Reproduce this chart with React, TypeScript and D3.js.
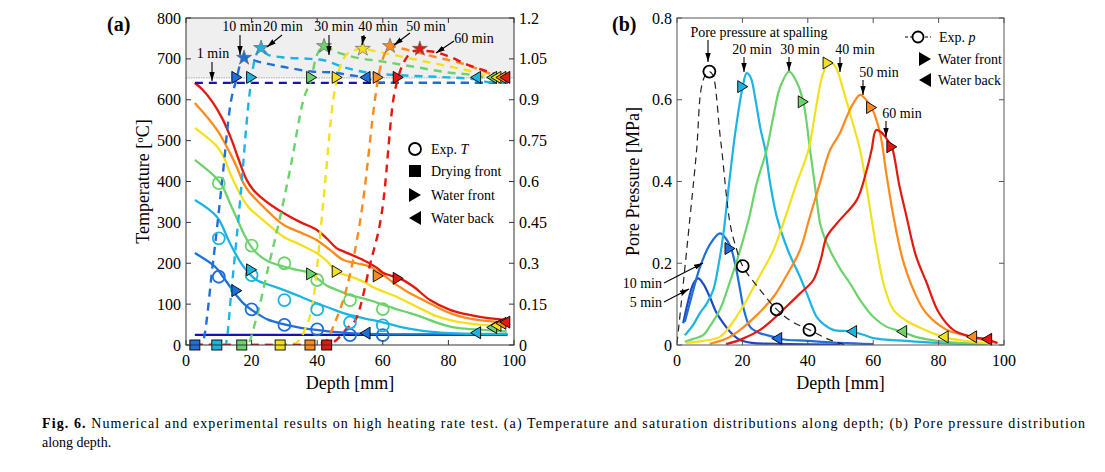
import React from "react";
import * as d3 from "d3";

type P = [number, number];

// ---------------- ticks ----------------
const depthTicks = [0, 20, 40, 60, 80, 100];
const tempTicks = [0, 100, 200, 300, 400, 500, 600, 700, 800];
const satTicks = [0, 0.15, 0.3, 0.45, 0.6, 0.75, 0.9, 1.05, 1.2];
const presTicks = [0, 0.2, 0.4, 0.6, 0.8];

// ---------------- series meta ----------------
const timeLabels = ["1 min", "10 min", "20 min", "30 min", "40 min", "50 min", "60 min"];
const timeColors = ["#1414b4", "#1f6fd8", "#1cb4e2", "#6cd36c", "#f4e01c", "#ff8a1c", "#e3190f"];

// ---------------- panel (a): temperature (°C) ----------------
const temp1: P[] = [[2.7, 25], [98, 25]];
const temp10: P[] = [[2.7, 225], [8.8, 192], [11, 170], [13.4, 143], [15.5, 120], [17.5, 102], [21.5, 78], [25, 62], [29.7, 51], [35, 42], [39.8, 37], [45, 32], [50, 29], [55, 27], [65, 26], [98, 26]];
const temp20: P[] = [[2.7, 355], [9.4, 314], [13.4, 249], [17.5, 192], [21.5, 159], [25, 148], [29.7, 135], [35, 118], [39.8, 102], [44, 90], [48, 78], [54, 66], [60.2, 55], [65, 45], [70.3, 37], [75, 32], [80.5, 29], [90, 27], [98, 27]];
const temp30: P[] = [[2.7, 453], [8.8, 412], [11, 390], [13.4, 347], [15.5, 310], [17.5, 274], [19.5, 245], [21.5, 225], [25, 205], [29.7, 192], [33, 185], [37.8, 176], [40, 163], [43, 145], [45.9, 135], [50, 122], [54, 114], [57, 107], [60.2, 98], [64, 88], [68.3, 78], [72, 68], [76, 56], [80.5, 45], [85, 40], [90.6, 37], [97.8, 33]];
const temp40: P[] = [[2.7, 531], [9.4, 486], [11.5, 460], [13.4, 421], [15.5, 385], [17.5, 355], [19.5, 333], [21.5, 319], [25, 295], [29.7, 265], [35, 245], [39.8, 225], [43, 205], [45.9, 180], [50, 168], [54, 155], [58, 138], [64.2, 118], [68, 103], [72.3, 86], [76, 72], [80.5, 61], [85, 54], [90, 49], [97.8, 45]];
const temp50: P[] = [[2.7, 592], [9.4, 527], [13.4, 470], [15.5, 435], [17.5, 396], [19.5, 372], [21.5, 355], [25, 327], [29.7, 294], [35, 275], [39.8, 257], [44, 232], [48, 208], [52, 200], [56, 192], [60, 172], [64.2, 147], [68, 128], [72.3, 110], [76, 95], [80.5, 78], [85, 67], [90, 60], [97.8, 55]];
const temp60: P[] = [[2.7, 641], [5, 625], [8.2, 593], [11, 555], [13.9, 502], [16, 455], [18.5, 404], [20.5, 380], [22.6, 363], [26, 342], [29.7, 323], [35, 300], [39.8, 282], [43, 260], [45.9, 237], [48, 229], [54, 208], [58, 190], [60.2, 176], [65.2, 163], [69.3, 143], [74.4, 110], [80.5, 86], [85, 76], [89.6, 69], [97.8, 61]];

// ---------------- panel (a): saturation (-) ----------------
const sat1: P[] = [[2.7, 0.962], [98, 0.962]];
const sat10: P[] = [[2.7, 0], [4.7, 0], [8.3, 0.31], [11, 0.6], [13.5, 0.88], [15.5, 0.982], [16.5, 1.03], [17.7, 1.054], [19, 1.05], [22, 1.04], [30, 1.02], [38.8, 1.003], [45, 1.0], [50, 0.99], [54.6, 0.982], [58, 0.965], [62, 0.962], [98, 0.962]];
const sat20: P[] = [[2.7, 0], [12, 0], [14, 0.22], [16.5, 0.53], [19, 0.88], [20, 0.982], [21, 1.05], [22.9, 1.09], [25, 1.065], [30, 1.055], [38, 1.05], [42, 1.045], [48, 1.02], [55, 1.0], [65, 0.99], [80, 0.982], [88.3, 0.975], [92, 0.965], [98, 0.962]];
const sat30: P[] = [[2.7, 0], [18.5, 0], [21.5, 0.1], [25, 0.28], [28.7, 0.47], [32, 0.66], [35.8, 0.9], [38.3, 0.982], [39.5, 1.05], [42.1, 1.097], [45, 1.08], [50, 1.06], [60, 1.04], [70, 1.02], [80, 1.0], [88, 0.99], [93.2, 0.975], [98, 0.968]];
const sat40: P[] = [[2.7, 0], [28.7, 0], [33, 0.005], [36, 0.05], [38.8, 0.165], [41.9, 0.53], [44.9, 0.9], [46.1, 0.982], [48, 1.05], [50, 1.075], [53.9, 1.087], [57, 1.08], [65, 1.06], [75, 1.035], [85, 1.01], [94.5, 0.98], [98, 0.972]];
const sat50: P[] = [[2.7, 0], [37.8, 0], [42, 0.01], [46, 0.1], [49, 0.21], [54, 0.53], [57.6, 0.9], [58.6, 0.982], [60, 1.05], [62.2, 1.097], [65, 1.09], [75, 1.06], [85, 1.03], [96, 0.982], [98, 0.975]];
const sat60: P[] = [[2.7, 0], [43, 0], [46, 0.02], [49, 0.06], [52, 0.1], [56, 0.29], [60.2, 0.53], [63.2, 0.9], [64.7, 0.982], [67, 1.05], [70, 1.08], [75, 1.077], [80, 1.06], [85.5, 1.03], [93.6, 0.997], [97, 0.982], [98, 0.978]];

// experimental temperature (10, 20, 30 min)
const expDepth = [10, 20, 30, 40, 50, 60];
const expT10 = [167, 87, 49, 38, 24, 24];
const expT20 = [261, 171, 110, 87, 55, 48];
const expT30 = [396, 243, 200, 159, 110, 88];

// fronts for 10..60 min
const dryingFront = [2.7, 9.4, 17, 28.7, 37.8, 42.9];
const waterFrontDepth = [15.5, 20, 38.3, 46.1, 58.6, 64.7];
const waterFrontTemp = [133, 184, 174, 180, 169, 163];
const waterBackDepth = [54.6, 88.3, 93.2, 94.5, 96, 97.2];
const waterBackTemp = [29, 30, 43, 48, 53, 56];
const markerSat = 0.982;
const peakDepth = [17.7, 22.9, 42.1, 53.9, 62.2, 71.3];
const peakSat = [1.054, 1.09, 1.097, 1.087, 1.097, 1.087];

// ---------------- panel (b): pore pressure (MPa) ----------------
const pres5: P[] = [[1.9, 0.053], [3.5, 0.11], [5, 0.15], [6.5, 0.163], [8, 0.15], [10, 0.118], [12, 0.08], [14.2, 0.053], [16.5, 0.03], [19.3, 0.012], [23, 0.005], [30, 0.003], [50, 0.001]];
const pres10: P[] = [[2.4, 0.057], [4.5, 0.12], [7, 0.19], [10, 0.245], [13.1, 0.273], [15, 0.26], [16.7, 0.232], [18, 0.19], [19.3, 0.135], [20.5, 0.085], [22.3, 0.045], [25, 0.03], [29.5, 0.02], [32, 0.014], [40, 0.01], [50, 0.005], [60, 0.002]];
const pres20: P[] = [[2.4, 0.024], [5, 0.05], [7, 0.078], [9, 0.1], [11.1, 0.135], [12.8, 0.2], [14.2, 0.273], [16, 0.4], [18, 0.53], [20.1, 0.632], [21.3, 0.665], [22.5, 0.655], [24, 0.6], [25.5, 0.53], [27, 0.477], [28.4, 0.4], [30.5, 0.314], [34, 0.23], [37.6, 0.167], [40, 0.12], [42.7, 0.069], [45, 0.05], [47.8, 0.037], [53.4, 0.033], [57, 0.025], [60, 0.017], [70, 0.01], [80, 0.005], [95, 0.002]];
const pres30: P[] = [[2.4, 0.008], [5, 0.015], [8, 0.024], [10, 0.045], [13.1, 0.086], [16, 0.15], [19.3, 0.232], [22, 0.31], [24.4, 0.396], [27.4, 0.477], [29.5, 0.56], [31.5, 0.63], [34.3, 0.669], [36.5, 0.645], [38.6, 0.595], [40.7, 0.477], [42.5, 0.37], [44, 0.29], [46.8, 0.232], [50, 0.185], [52.9, 0.151], [56, 0.11], [60, 0.069], [64, 0.045], [68.7, 0.033], [73, 0.02], [78, 0.012], [85, 0.006], [95, 0.002]];
const pres40: P[] = [[2.7, 0.005], [8, 0.01], [13.1, 0.02], [17, 0.055], [21.3, 0.11], [25, 0.165], [29.5, 0.232], [33, 0.31], [36.6, 0.396], [40.2, 0.477], [42.5, 0.58], [44.5, 0.66], [46.5, 0.693], [48.5, 0.68], [51, 0.62], [53.5, 0.55], [56, 0.477], [58.5, 0.36], [61.1, 0.232], [63.5, 0.14], [66.2, 0.086], [70, 0.06], [75, 0.04], [81.4, 0.02], [88, 0.01], [95, 0.004]];
const pres50: P[] = [[10, 0.003], [15, 0.015], [19.3, 0.037], [24, 0.07], [29.5, 0.118], [33.5, 0.17], [37.6, 0.232], [40.5, 0.31], [43.7, 0.396], [46.8, 0.477], [49.8, 0.518], [52, 0.56], [53.9, 0.591], [56, 0.612], [57.8, 0.6], [59.5, 0.581], [62.1, 0.518], [64, 0.42], [66.2, 0.314], [69, 0.21], [72.3, 0.135], [76, 0.08], [82.5, 0.037], [90.1, 0.02], [95, 0.01], [98, 0.005]];
const pres60: P[] = [[15, 0.002], [20, 0.015], [25.4, 0.037], [29, 0.06], [33.5, 0.094], [37.5, 0.125], [41.7, 0.159], [44, 0.21], [45.8, 0.265], [49.8, 0.306], [55, 0.355], [58, 0.428], [59.5, 0.477], [60.9, 0.526], [62.5, 0.52], [64.5, 0.5], [65.7, 0.485], [68, 0.39], [70.2, 0.314], [73, 0.22], [76.4, 0.151], [80, 0.08], [84.5, 0.037], [90, 0.02], [94.7, 0.014], [98, 0.005]];
const presExpLine: P[] = [[0, 0.004], [1.4, 0.11], [4, 0.314], [6, 0.477], [7.5, 0.632], [9, 0.665], [10, 0.669], [11, 0.66], [11.6, 0.64], [13.1, 0.518], [13.7, 0.477], [16.2, 0.298], [18, 0.24], [20.1, 0.193], [25.4, 0.135], [30.5, 0.087], [35, 0.058], [40.5, 0.037], [46, 0.015], [51.4, 0]];
const presExpPoints: P[] = [[9.9, 0.669], [20.1, 0.193], [30.5, 0.087], [40.5, 0.037]];
const presFrontPts: P[] = [[16.2, 0.236], [20.1, 0.632], [38.6, 0.595], [46.2, 0.69], [59.5, 0.581], [65.7, 0.485]];
const presBackPts: P[] = [[30.5, 0.016], [53.4, 0.033], [68.7, 0.033], [81.4, 0.02], [90.1, 0.02], [94.7, 0.014]];
const pres5Color = "#1d47c9";

const FONT = "'Liberation Serif','Times New Roman',Times,serif";

function triRight(cx: number, cy: number, w = 10, h = 12) {
  return `M${cx - w / 2},${cy - h / 2}L${cx + w / 2},${cy}L${cx - w / 2},${cy + h / 2}Z`;
}
function triLeft(cx: number, cy: number, w = 10, h = 12) {
  return `M${cx + w / 2},${cy - h / 2}L${cx - w / 2},${cy}L${cx + w / 2},${cy + h / 2}Z`;
}

export default function App() {
  const xA = d3.scaleLinear().domain([0, 100]).range([186, 514]);
  const yA = d3.scaleLinear().domain([0, 800]).range([345, 18]);
  const sA = d3.scaleLinear().domain([0, 1.2]).range([345, 18]);
  const xB = d3.scaleLinear().domain([0, 100]).range([677, 1004]);
  const yB = d3.scaleLinear().domain([0, 0.8]).range([345, 18]);

  const lineT = d3.line<P>().x((d) => xA(d[0])).y((d) => yA(d[1])).curve(d3.curveCatmullRom.alpha(0.5));
  const lineS = d3.line<P>().x((d) => xA(d[0])).y((d) => sA(d[1])).curve(d3.curveMonotoneX);
  const lineP = d3.line<P>().x((d) => xB(d[0])).y((d) => yB(d[1])).curve(d3.curveCatmullRom.alpha(0.5));

  const temps = [temp1, temp10, temp20, temp30, temp40, temp50, temp60];
  const sats = [sat1, sat10, sat20, sat30, sat40, sat50, sat60];
  const pres = [pres20, pres30, pres40, pres50, pres60];
  const expTs = [expT10, expT20, expT30];
  const star = d3.symbol().type(d3.symbolStar).size(70);

  const axisColor = "#333";
  const tickLen = 5;

  const ax = { l: 186, r: 514, t: 18, b: 345 };
  const bx = { l: 677, r: 1004, t: 18, b: 345 };

  const arrow = (x1: number, y1: number, x2: number, y2: number, key: string) => (
    <line key={key} x1={x1} y1={y1} x2={x2} y2={y2} stroke="#000" strokeWidth={1.1} markerEnd="url(#arr)" />
  );

  return (
    <svg width={1105} height={472} style={{ position: "absolute", left: 0, top: 0, background: "#fff" }} fontFamily={FONT}>
      <defs>
        <marker id="arr" viewBox="0 0 10 6" refX="10" refY="3" markerWidth="9" markerHeight="5.4" markerUnits="userSpaceOnUse" orient="auto">
          <path d="M0,0L10,3L0,6Z" fill="#000" />
        </marker>
        <clipPath id="clipA"><rect x={ax.l} y={ax.t} width={ax.r - ax.l} height={ax.b - ax.t} /></clipPath>
        <clipPath id="clipB"><rect x={bx.l} y={bx.t} width={bx.r - bx.l} height={bx.b - bx.t} /></clipPath>
      </defs>
      <rect x={0} y={0} width={1105} height={472} fill="#fff" />

      {/* ================= Panel (a) ================= */}
      <rect x={ax.l} y={sA(1.2)} width={ax.r - ax.l} height={sA(0.98) - sA(1.2)} fill="#efefef" />
      <line x1={ax.l} x2={ax.r} y1={sA(0.98)} y2={sA(0.98)} stroke="#9a9a9a" strokeWidth={0.8} strokeDasharray="1.5,1" />
      <g clipPath="url(#clipA)">
        {temps.map((d, i) => (
          <path key={"t" + i} d={lineT(d) || ""} fill="none" stroke={timeColors[i]} strokeWidth={2.3} />
        ))}
        {sats.map((d, i) => (
          <path key={"s" + i} d={lineS(d) || ""} fill="none" stroke={timeColors[i]} strokeWidth={2.4} strokeDasharray="8,6" />
        ))}
      </g>
      {/* experimental T */}
      {expTs.map((arr, i) =>
        arr.map((v, j) => (
          <circle key={`e${i}-${j}`} cx={xA(expDepth[j])} cy={yA(v)} r={6} fill="none" stroke={timeColors[i + 1]} strokeWidth={1.8} />
        ))
      )}
      {/* drying front */}
      {dryingFront.map((d, i) => (
        <rect key={"df" + i} x={xA(d) - 5} y={yA(0) - 5} width={10} height={10} fill={timeColors[i + 1]} stroke="#000" strokeWidth={0.9} />
      ))}
      {/* water front/back on temperature */}
      {waterFrontDepth.map((d, i) => (
        <path key={"wft" + i} d={triRight(xA(d), yA(waterFrontTemp[i]))} fill={timeColors[i + 1]} stroke="#000" strokeWidth={0.9} />
      ))}
      {waterBackDepth.map((d, i) => (
        <path key={"wbt" + i} d={triLeft(xA(d), yA(waterBackTemp[i]))} fill={timeColors[i + 1]} stroke="#000" strokeWidth={0.9} />
      ))}
      {/* water front/back on saturation */}
      {waterFrontDepth.map((d, i) => (
        <path key={"wfs" + i} d={triRight(xA(d), sA(markerSat))} fill={timeColors[i + 1]} stroke="#000" strokeWidth={0.9} />
      ))}
      {waterBackDepth.map((d, i) => (
        <path key={"wbs" + i} d={triLeft(xA(d), sA(markerSat))} fill={timeColors[i + 1]} stroke="#000" strokeWidth={0.9} />
      ))}
      {peakDepth.map((d, i) => (
        <path key={"pk" + i} d={star() || ""} transform={`translate(${xA(d)},${sA(peakSat[i])})`} fill={timeColors[i + 1]} stroke="#666" strokeWidth={0.7} />
      ))}

      {/* axes a */}
      <rect x={ax.l} y={ax.t} width={ax.r - ax.l} height={ax.b - ax.t} fill="none" stroke={axisColor} strokeWidth={1} />
      {tempTicks.map((t) => (
        <g key={"lt" + t}>
          <line x1={ax.l} x2={ax.l + tickLen} y1={yA(t)} y2={yA(t)} stroke={axisColor} />
          <text x={ax.l - 5} y={yA(t)} dy="0.35em" textAnchor="end" fontSize={16}>{t}</text>
        </g>
      ))}
      {satTicks.map((t) => (
        <g key={"rt" + t}>
          <line x1={ax.r - tickLen} x2={ax.r} y1={sA(t)} y2={sA(t)} stroke={axisColor} />
          <text x={ax.r + 5} y={sA(t)} dy="0.35em" textAnchor="start" fontSize={16}>{t}</text>
        </g>
      ))}
      {depthTicks.map((t) => (
        <g key={"bt" + t}>
          <line x1={xA(t)} x2={xA(t)} y1={ax.b} y2={ax.b - tickLen} stroke={axisColor} />
          <line x1={xA(t)} x2={xA(t)} y1={ax.t} y2={ax.t + tickLen} stroke={axisColor} />
          <text x={xA(t)} y={366} textAnchor="middle" fontSize={16}>{t}</text>
        </g>
      ))}
      <text x={(ax.l + ax.r) / 2} y={389} textAnchor="middle" fontSize={18}>Depth [mm]</text>
      <text transform={`translate(149,${(ax.t + ax.b) / 2}) rotate(-90)`} textAnchor="middle" fontSize={18}>
        Temperature [<tspan dy="-6" fontSize={11}>o</tspan><tspan dy="6">C]</tspan>
      </text>
      <text x={107} y={31} fontSize={20} fontWeight="bold">(a)</text>

      {/* annotations a */}
      <g fontSize={14} textAnchor="middle">
        <text x={213} y={58}>1 min</text>
        <text x={242} y={31}>10 min</text>
        <text x={283} y={31}>20 min</text>
        <text x={334} y={31}>30 min</text>
        <text x={378} y={31}>40 min</text>
        <text x={426} y={31}>50 min</text>
        <text x={474} y={43}>60 min</text>
      </g>
      {arrow(212, 62, 212, 81, "a1")}
      {arrow(240, 35, 240, 55, "a2")}
      {arrow(282, 35, 267, 47, "a3")}
      {arrow(329, 35, 329, 55, "a4")}
      {arrow(364, 35, 362, 45, "a5")}
      {arrow(410, 33, 394, 45, "a6")}
      {arrow(454, 41, 436, 53, "a7")}

      {/* legend a */}
      <g fontSize={14}>
        <circle cx={415} cy={149} r={6} fill="none" stroke="#000" strokeWidth={1.8} />
        <text x={431} y={149} dy="0.35em">Exp. <tspan fontStyle="italic">T</tspan></text>
        <rect x={409} y={165} width={12} height={12} fill="#000" />
        <text x={431} y={171} dy="0.35em">Drying front</text>
        <path d={triRight(415, 195, 12, 14)} fill="#000" />
        <text x={431} y={195} dy="0.35em">Water front</text>
        <path d={triLeft(415, 218, 12, 14)} fill="#000" />
        <text x={431} y={218} dy="0.35em">Water back</text>
      </g>

      {/* ================= Panel (b) ================= */}
      <g clipPath="url(#clipB)">
        <path d={lineP(pres5) || ""} fill="none" stroke={pres5Color} strokeWidth={2.2} />
        <path d={lineP(pres10) || ""} fill="none" stroke={timeColors[1]} strokeWidth={2.2} />
        {pres.map((d, i) => (
          <path key={"p" + i} d={lineP(d) || ""} fill="none" stroke={timeColors[i + 2]} strokeWidth={2.2} />
        ))}
        <path d={lineP(presExpLine) || ""} fill="none" stroke="#222" strokeWidth={1.2} strokeDasharray="7,5" />
      </g>
      {presExpPoints.map((d, i) => (
        <circle key={"pe" + i} cx={xB(d[0])} cy={yB(d[1])} r={6} fill="none" stroke="#000" strokeWidth={1.8} />
      ))}
      {presFrontPts.map((d, i) => (
        <path key={"pf" + i} d={triRight(xB(d[0]), yB(d[1]))} fill={timeColors[i + 1]} stroke="#000" strokeWidth={0.9} />
      ))}
      {presBackPts.map((d, i) => (
        <path key={"pb" + i} d={triLeft(xB(d[0]), yB(d[1]))} fill={timeColors[i + 1]} stroke="#000" strokeWidth={0.9} />
      ))}

      {/* axes b */}
      <rect x={bx.l} y={bx.t} width={bx.r - bx.l} height={bx.b - bx.t} fill="none" stroke="#555" strokeWidth={1} />
      {presTicks.map((t) => (
        <g key={"pt" + t}>
          <line x1={bx.l} x2={bx.l + tickLen} y1={yB(t)} y2={yB(t)} stroke="#555" />
          <line x1={bx.r - tickLen} x2={bx.r} y1={yB(t)} y2={yB(t)} stroke="#555" />
          <text x={bx.l - 5} y={yB(t)} dy="0.35em" textAnchor="end" fontSize={16}>{t}</text>
        </g>
      ))}
      {depthTicks.map((t) => (
        <g key={"pbt" + t}>
          <line x1={xB(t)} x2={xB(t)} y1={bx.b} y2={bx.b - tickLen} stroke="#555" />
          <line x1={xB(t)} x2={xB(t)} y1={bx.t} y2={bx.t + tickLen} stroke="#555" />
          <text x={xB(t)} y={366} textAnchor="middle" fontSize={16}>{t}</text>
        </g>
      ))}
      <text x={(bx.l + bx.r) / 2} y={389} textAnchor="middle" fontSize={18}>Depth [mm]</text>
      <text transform={`translate(639,${(bx.t + bx.b) / 2}) rotate(-90)`} textAnchor="middle" fontSize={18}>Pore Pressure [MPa]</text>
      <text x={612} y={31} fontSize={20} fontWeight="bold">(b)</text>

      {/* annotations b */}
      <g fontSize={14} textAnchor="middle">
        <text x={759} y={37}>Pore pressure at spalling</text>
        <text x={752} y={54}>20 min</text>
        <text x={800} y={54}>30 min</text>
        <text x={855} y={54}>40 min</text>
        <text x={879} y={77}>50 min</text>
        <text x={902} y={118}>60 min</text>
      </g>
      <g fontSize={14} textAnchor="end">
        <text x={662} y={288}>10 min</text>
        <text x={662} y={307}>5 min</text>
      </g>
      {arrow(708, 40, 708, 62, "b1")}
      {arrow(744, 57, 744, 72, "b2")}
      {arrow(789, 57, 789, 71, "b3")}
      {arrow(840, 57, 840, 72, "b4")}
      {arrow(863, 80, 863, 95, "b5")}
      {arrow(886, 121, 886, 137, "b6")}
      {arrow(664, 283, 703, 263, "b7")}
      {arrow(664, 302, 689, 289, "b8")}

      {/* legend b */}
      <g fontSize={14}>
        <line x1={905} x2={931} y1={37} y2={37} stroke="#000" strokeWidth={1} strokeDasharray="3,2" />
        <circle cx={918} cy={37} r={5.5} fill="#fff" stroke="#000" strokeWidth={1.8} />
        <text x={939} y={37} dy="0.35em">Exp. <tspan fontStyle="italic">p</tspan></text>
        <path d={triRight(925, 59, 12, 14)} fill="#000" />
        <text x={938} y={59} dy="0.35em">Water front</text>
        <path d={triLeft(925, 80, 12, 14)} fill="#000" />
        <text x={938} y={80} dy="0.35em">Water back</text>
      </g>

      {/* caption */}
      <text x={42} y={428} fontSize={14} textLength={1043} lengthAdjust="spacing">
        <tspan fontWeight="bold">Fig. 6.</tspan> Numerical and experimental results on high heating rate test. (a) Temperature and saturation distributions along depth; (b) Pore pressure distribution
      </text>
      <text x={42} y={447} fontSize={14}>along depth.</text>
    </svg>
  );
}
